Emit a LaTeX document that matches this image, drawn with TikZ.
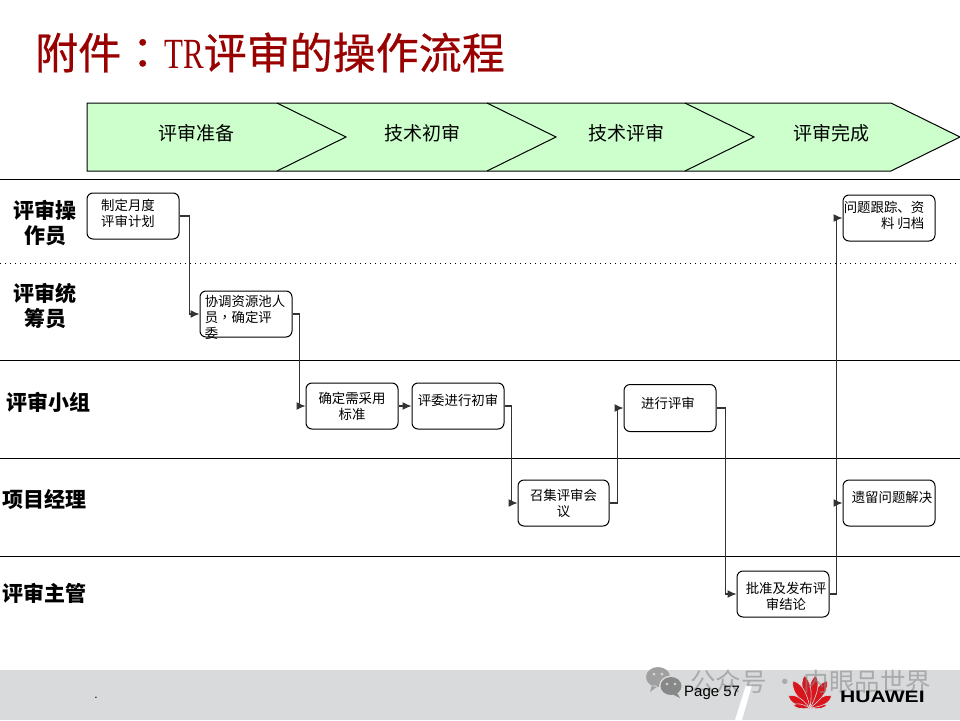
\documentclass[tikz,border=0pt]{standalone}
\usepackage{fontspec}
\setmainfont{Noto Sans CJK SC}
\newfontfamily\cjktc{Noto Sans CJK TC}
\newfontfamily\cjktitle[FakeBold=0.5]{Noto Sans CJK SC}
\newfontfamily\cjktctitle[FakeBold=0.5]{Noto Sans CJK TC}
\newfontfamily\latinsans{Liberation Sans}
\newfontfamily\latinserif{Liberation Serif}
\usetikzlibrary{arrows.meta, positioning}
\definecolor{hwTitle}{HTML}{990000}
\definecolor{hwGreen}{HTML}{CCFFCC}
\definecolor{hwStrip}{HTML}{D9DADC}
\definecolor{hwRed}{HTML}{D8141C}
\definecolor{hwMark}{HTML}{8A8A8A}
\definecolor{hwIcon}{HTML}{A0A0A0}
\definecolor{hwLine}{HTML}{333333}
\tikzset{
  lanerule/.style = {black, line width=1pt},
  lanedots/.style = {black, line width=1pt, dash pattern=on 1pt off 4pt},
  phasetxt/.style = {font=\fontsize{19}{22}\selectfont},
  lanetxt/.style  = {font=\fontsize{21}{25}\selectfont\bfseries, align=center},
  stepbox/.style  = {draw=black, fill=white, rounded corners=6pt, line width=1pt,
                     minimum width=92pt, minimum height=46pt, inner sep=0pt,
                     align=center, font=\fontsize{13.4}{16}\selectfont},
  steptxt/.style  = {inner sep=0pt, align=center, font=\fontsize{13.4}{16}\selectfont},
  flow/.style     = {-{Latex[length=9pt, width=8pt]}, hwLine, line width=1.2pt},
}
\begin{document}
\begin{tikzpicture}[x=1pt, y=-1pt]
  \useasboundingbox (0,0) rectangle (960,720);
  % footer strip
  \fill[hwStrip] (0,670) rectangle (960,720);
  \fill[white] (735,720) -- (742,720) -- (752,685) -- (746,685) -- cycle;
  % title
  \node[anchor=west, inner sep=0pt, text=hwTitle, font=\fontsize{43}{48}\selectfont\cjktitle] (title) at (35,52.5)
    {附件{\cjktctitle ：}{\latinserif\scalebox{0.72}[1]{TR}}评审的操作流程};
  % phase band
  \fill[hwGreen] (87,103) -- (891,103) -- (960,137) -- (891,171) -- (87,171) -- cycle;
  \draw[black, line width=1pt] (87,103) -- (891,103) -- (960,137) -- (891,171) -- (87,171) -- cycle;
  \foreach \x in {277,487,685} {
    \draw[black, line width=1pt] (\x,103) -- ++(69,34) -- ++(-69,34);
  }
  \node[phasetxt] (prepare) at (196,133) {评审准备};
  \node[phasetxt] (firstpass) at (422,133) {技术初审};
  \node[phasetxt] (review) at (626,133) {技术评审};
  \node[phasetxt] (finish) at (831,133) {评审完成};
  % lanes
  \draw[lanerule] (0,179) -- (960,179);
  \draw[lanedots] (0,263) -- (960,263);
  \draw[lanerule] (0,360) -- (960,360);
  \draw[lanerule] (0,458) -- (960,458);
  \draw[lanerule] (0,556) -- (960,556);
  \node[lanetxt] (operator) at (45,223) {评审操\\作员};
  \node[lanetxt] (planner) at (45,306) {评审统\\筹员};
  \node[lanetxt] (panel) at (48.5,402) {评审小组};
  \node[lanetxt] (manager) at (44.5,499) {项目经理};
  \node[lanetxt] (chief) at (44.5,593) {评审主管};
  % steps
  \node[stepbox, label={[steptxt, align=left, xshift=-5pt, yshift=3pt]center:制定月度\\评审计划}] (plan) at (133,216) {};
  \node[stepbox, label={[steptxt, align=left, xshift=-1pt, yshift=-3pt]center:协调资源池人\\员{\cjktc ，}确定评\\委}] (pool) at (246,314) {};
  \node[stepbox] (standard) at (352,406) {确定需采用\\标准};
  \node[stepbox, label={[steptxt, yshift=6pt]center:评委进行初审}] (prelim) at (458,406) {};
  \node[stepbox, minimum width=91pt] (meeting) at (563.5,503) {召集评审会\\议};
  \node[stepbox, minimum height=47pt, label={[steptxt, xshift=-2pt, yshift=5pt]center:进行评审}] (hold) at (670,408) {};
  \node[stepbox, label={[steptxt, xshift=3pt, yshift=-2pt]center:批准及发布评\\审结论}] (approve) at (783,594) {};
  \node[stepbox, label={[steptxt, align=right, xshift=-5pt, yshift=3pt]center:问题跟踪、资\\料 归档}] (archive) at (889,218) {};
  \node[stepbox, label={[steptxt, xshift=3pt, yshift=6pt]center:遗留问题解决}] (leftover) at (889,503) {};
  % connectors
  \draw[flow] (plan.east) -- ++(10,0) |- (pool.west);
  \draw[flow] (pool.east) -- ++(7,0) |- (standard.west);
  \draw[flow] (standard.east) -- (prelim.west);
  \draw[flow] (prelim.east) -- ++(7,0) |- (meeting.west);
  \draw[flow] (meeting.east) -- ++(8,0) |- (hold.west);
  \draw[flow] (hold.east) -- ++(9,0) |- (approve.west);
  \draw[flow] (approve.east) -- ++(7,0) |- (leftover.west);
  \draw[flow] (approve.east) -- ++(7,0) |- (archive.west);
  % logo petals
  \foreach \ang/\len/\wid in {-80/17/3,-61/25/5,-32/32/6,-10/33/5.5,10/33/5.5,32/32/6,61/25/5,80/17/3} {
    \filldraw[fill=hwRed, draw=hwStrip, line width=0.6pt, rotate around={\ang:(810,708)}]
      (810,708) .. controls (810-\wid,708-0.5*\len) and (810-\wid,708-0.8*\len) .. (810,708-\len)
      .. controls (810+\wid,708-0.8*\len) and (810+\wid,708-0.5*\len) .. (810,708) -- cycle;
  }
  % footer texts and marks
  \node[anchor=west, inner sep=0pt, text=hwMark, opacity=0.6, font=\fontsize{25.5}{28}\selectfont] (wmark) at (690,682) {公众号 · 内眼品世界};
  \fill[hwIcon] (658,677) ellipse (12 and 10) (652,685) -- (650,692) -- (658,686) -- cycle;
  \fill[hwStrip] (671,686) ellipse (12 and 10.5);
  \fill[hwIcon!85!black] (671,686) ellipse (10.5 and 9) (677,693) -- (680,698) -- (672,694) -- cycle;
  \fill[hwStrip] (654,674) circle (1.5) (662,674) circle (1.5) (667,684) circle (1.3) (675,684) circle (1.3);
  \node[anchor=west, inner sep=0pt, font=\fontsize{15}{18}\selectfont\latinsans] (page) at (684,692.5) {Page 57};
  \node[inner sep=0pt, font=\fontsize{12}{14}\selectfont\latinsans] (dot) at (96,698) {.};
  \node[anchor=west, inner sep=0pt, font=\fontsize{16.5}{20}\selectfont\bfseries\latinsans] (brand) at (840,697) {\scalebox{1.28}[1]{HUAWEI}};
\end{tikzpicture}
\end{document}
